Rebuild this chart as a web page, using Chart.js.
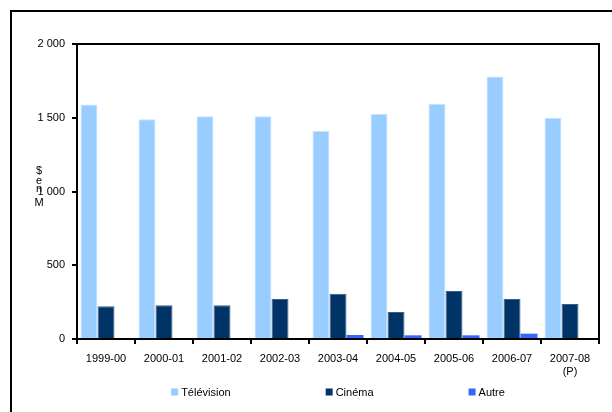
<!DOCTYPE html>
<html>
<head>
<meta charset="utf-8">
<script src="https://cdn.jsdelivr.net/npm/chart.js@4"></script>
<style>
  html, body { margin: 0; padding: 0; background: #fff; }
  #wrap { width: 612px; height: 412px; }
</style>
</head>
<body>
<div id="wrap"><canvas id="chart" width="612" height="412"></canvas></div>
<script>
const years = ['1999-00', '2000-01', '2001-02', '2002-03', '2003-04', '2004-05', '2005-06', '2006-07', ['2007-08', '(P)']];
const television = [1590, 1490, 1510, 1510, 1410, 1525, 1595, 1780, 1500];
const cinema = [222, 228, 228, 272, 307, 183, 325, 272, 237];
const autre = [0, 0, 0, 0, 27, 25, 25, 36, 0];
const yMax = 2000;
const yStep = 500;
const yTitle = ['$', 'e', 'n', 'M'];

Chart.defaults.font.family = '"Liberation Sans", Arial, sans-serif';
Chart.defaults.font.size = 11;
Chart.defaults.color = '#000';

function spaced(v) {
  return String(v).replace(/\B(?=(\d{3})+(?!\d))/g, ' ');
}

// frame, plot box, stacked axis title and legend row
const decorations = {
  id: 'decorations',
  beforeDraw(chart) {
    const ctx = chart.ctx;
    ctx.save();
    ctx.strokeStyle = '#000';
    ctx.lineWidth = 2;
    ctx.beginPath();
    ctx.moveTo(11, chart.height);
    ctx.lineTo(11, 11);
    ctx.lineTo(chart.width, 11);
    ctx.stroke();
    ctx.restore();
  },
  afterDraw(chart) {
    const ctx = chart.ctx;
    const a = chart.chartArea;
    ctx.save();
    ctx.strokeStyle = '#000';
    ctx.lineWidth = 2;
    ctx.strokeRect(a.left, a.top, a.right - a.left, a.bottom - a.top);

    ctx.font = '11px "Liberation Sans", Arial, sans-serif';
    ctx.fillStyle = '#000';
    ctx.textAlign = 'center';
    ctx.textBaseline = 'middle';
    const titleY = [171, 181, 189, 203];
    yTitle.forEach((c, i) => ctx.fillText(c, 39, titleY[i]));

    // legend
    const box = 7, gap = 95, txtGap = 3, ly = 392;
    const items = chart.data.datasets.map(ds => ({
      label: ds.label, color: ds.backgroundColor,
      w: box + txtGap + ctx.measureText(ds.label).width
    }));
    const total = items.reduce((s, it) => s + it.w, 0) + gap * (items.length - 1);
    let x = (a.left + a.right) / 2 - total / 2;
    ctx.textAlign = 'left';
    items.forEach(it => {
      ctx.fillStyle = it.color;
      ctx.fillRect(x, ly - 3.5, box, box);
      ctx.fillStyle = '#000';
      ctx.fillText(it.label, x + box + txtGap, ly + 1);
      x += it.w + gap;
    });
    ctx.restore();
  }
};

new Chart(document.getElementById('chart'), {
  type: 'bar',
  data: {
    labels: years,
    datasets: [
      { label: 'Télévision', data: television, backgroundColor: '#99CCFF', borderColor: '#C6E2FF', borderWidth: { left: 1, right: 1, top: 1 } },
      { label: 'Cinéma', data: cinema, backgroundColor: '#003366', borderColor: '#3A5F86', borderWidth: { left: 1, right: 1, top: 1 } },
      { label: 'Autre', data: autre, backgroundColor: '#3366FF', borderWidth: 0 }
    ]
  },
  options: {
    responsive: false,
    animation: false,
    layout: { padding: { left: 0, top: 44, right: 13, bottom: 33 } },
    plugins: {
      legend: { display: false },
      tooltip: { enabled: false }
    },
    datasets: {
      bar: { categoryPercentage: 0.88, barPercentage: 1 }
    },
    scales: {
      x: {
        grid: { drawOnChartArea: false, drawTicks: true, tickLength: 5, color: '#000', lineWidth: 2, offset: true },
        border: { color: '#000', width: 2 },
        ticks: { padding: 8, maxRotation: 0, autoSkip: false, color: '#000' },
        afterFit(scale) { scale.height = 40; }
      },
      y: {
        min: 0,
        max: yMax,
        grid: { drawOnChartArea: false, drawTicks: true, tickLength: 5, color: '#000', lineWidth: 2 },
        border: { color: '#000', width: 2 },
        ticks: { stepSize: yStep, padding: 7, color: '#000', callback: v => spaced(v) },
        afterFit(scale) { scale.width = 77; }
      }
    }
  },
  plugins: [decorations]
});
</script>
</body>
</html>
